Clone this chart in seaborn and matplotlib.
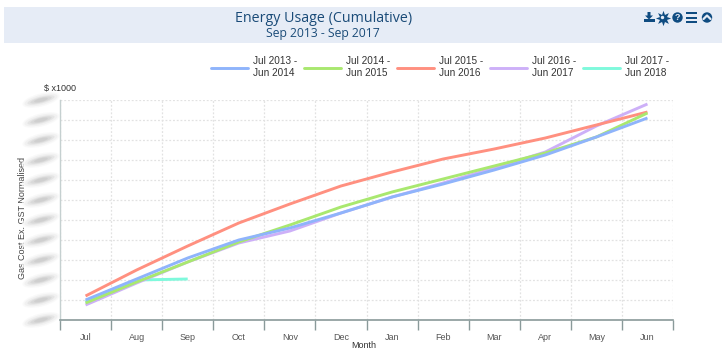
import numpy as np
import pandas as pd
import matplotlib
matplotlib.use("Agg")
import matplotlib.pyplot as plt
from matplotlib.patches import Ellipse, Rectangle, Circle, Polygon
from matplotlib.lines import Line2D
import seaborn as sns

months = ["Jul","Aug","Sep","Oct","Nov","Dec","Jan","Feb","Mar","Apr","May","Jun"]
fy14 = [10.0,20.5,31.0,40.0,46.0,53.5,61.5,68.0,75.0,82.5,91.5,101.0]
fy15 = [8.5,19.0,29.0,39.0,47.5,56.5,64.0,70.5,77.0,83.5,91.5,103.5]
fy16 = [12.0,25.0,37.0,48.5,58.0,67.0,74.0,80.5,85.5,91.0,97.5,104.0]
fy17 = [7.5,18.5,29.0,38.5,44.5,53.5,61.5,68.5,76.0,84.0,97.0,108.0]
fy18 = [9.0,20.0,20.5]
names = ["Jul 2013 -\nJun 2014","Jul 2014 -\nJun 2015","Jul 2015 -\nJun 2016","Jul 2016 -\nJun 2017","Jul 2017 -\nJun 2018"]
series = [fy14,fy15,fy16,fy17,fy18]
colors = ["#8FB4FB","#A9E86F","#FF9080","#CDB0F8","#7FF9DC"]
zorders = [6,5,4,3,2]

sns.set_theme(style="white")
plt.rcParams['font.family'] = ['Liberation Sans','DejaVu Sans']
W,H = 726,362
fig = plt.figure(figsize=(W/100,H/100),dpi=100)

# page furniture, in pixel coordinates
bg = fig.add_axes([0,0,1,1],zorder=0)
bg.set_xlim(0,W); bg.set_ylim(H,0); bg.axis("off")
bg.add_patch(Rectangle((4,7),718,36,fc="#E6ECF6",ec="none"))
navy="#0F4C81"
bg.text(324,18,"Energy Usage (Cumulative)",ha="center",va="center",fontsize=10.3,color="#1A4B78",family=["Open Sans","DejaVu Sans"])
bg.text(323,33.5,"Sep 2013 - Sep 2017",ha="center",va="center",fontsize=8.7,color="#1A4B78",family=["Open Sans","DejaVu Sans"])
# icons
bg.add_patch(Polygon([(647.5,12),(650.5,12),(650.5,15.5),(653,15.5),(649,19.5),(645,15.5),(647.5,15.5)],fc=navy,ec="none"))
bg.add_patch(Rectangle((643.5,19),11.5,3,fc=navy,ec="none"))
bg.plot([662.5],[17.5],marker=(8,1,0),ms=11,color=navy,mew=0)
bg.add_patch(Circle((662.5,17.5),1.7,fc="#E6ECF6",ec="none",zorder=4))
bg.add_patch(Circle((677.5,17.5),5.2,fc=navy,ec="none"))
bg.text(677.5,17.8,"?",color="#E6ECF6",ha="center",va="center",fontsize=6.5,fontweight="bold")
for yy in (13,17.5,22):
    bg.add_patch(Rectangle((686,yy-1),11,2,fc=navy,ec="none"))
bg.add_patch(Circle((707,17.5),5.2,fc=navy,ec="none"))
bg.plot([703.5,707,710.5],[19,15.5,19],color="#E6ECF6",lw=1.6)

ax = fig.add_axes([60/W,1-320/H,613/W,220/H],zorder=1)
ax.patch.set_alpha(0)
df = pd.concat([pd.DataFrame({"Month":months[:len(v)],"Cost":v,"Year":n}) for v,n in zip(series,names)])
sns.lineplot(data=df,x="Month",y="Cost",hue="Year",hue_order=names,palette=colors,
             sort=False,linewidth=2.1,ax=ax,legend=False,errorbar=None)
for ln,z in zip(ax.lines,zorders):
    ln.set_zorder(z); ln.set_solid_capstyle("butt")
ax.set_xlim(-0.5,11.5)
ax.set_ylim(0,110)
ax.set_yticks(np.arange(0,111,10))
ax.set_yticklabels([])
ax.set_xticks(range(12)); ax.set_xticklabels(months,fontsize=6.5,color="#555555")
ax.set_xticks(np.arange(-0.5,12,1),minor=True)
ax.tick_params(axis="x",which="major",length=0,pad=9)
ax.tick_params(axis="x",which="minor",length=7,width=1,color="#8A9A9A",bottom=True,direction="out")
ax.tick_params(axis="y",length=0)
ax.grid(True,which="major",axis="y",color="#E2E2E2",lw=0.9,ls=(0,(1.5,1.5)))
ax.grid(True,which="minor",axis="x",color="#E2E2E2",lw=0.9,ls=(0,(1.5,1.5)))
ax.set_axisbelow(True)
for s in ("top","right"):
    ax.spines[s].set_visible(False)
ax.spines["left"].set_color("#C5D0D0"); ax.spines["left"].set_linewidth(1)
ax.spines["bottom"].set_color("#8A9A9A"); ax.spines["bottom"].set_linewidth(1.2)
ax.set_xlabel(""); ax.set_ylabel("")
bg.text(364,345.5,"Month",ha="center",va="center",fontsize=6.5,color="#333333")
bg.text(60,89,"$ x1000",ha="center",va="center",fontsize=6.5,color="#333333")
bg.text(23,218,"Gas Cost Ex. GST Normalised",rotation=90,ha="center",va="center",fontsize=6.5,color="#444444")

# obscured (blurred) y tick labels
for t in ax.get_yticks():
    py = 320-2*t
    bg.add_patch(Ellipse((42,py),42,15,angle=-14,fc="white",ec="none",alpha=.75,zorder=5))
    for w,h,a in [(38,13,.04),(34,10,.06),(28,7,.09),(22,5,.10),(14,3.5,.10)]:
        bg.add_patch(Ellipse((41,py),w,h,angle=-14,fc="#777777",ec="none",alpha=a,zorder=6))

# legend
for i,(n,c) in enumerate(zip(names,colors)):
    x0 = 211+93*i
    bg.add_line(Line2D([x0,x0+37],[67.5,67.5],color=c,lw=2.1))
    bg.text(x0+42,67,n,ha="left",va="center",fontsize=7.2,color="#333333",linespacing=1.25)

fig.savefig("out.png",dpi=100)
